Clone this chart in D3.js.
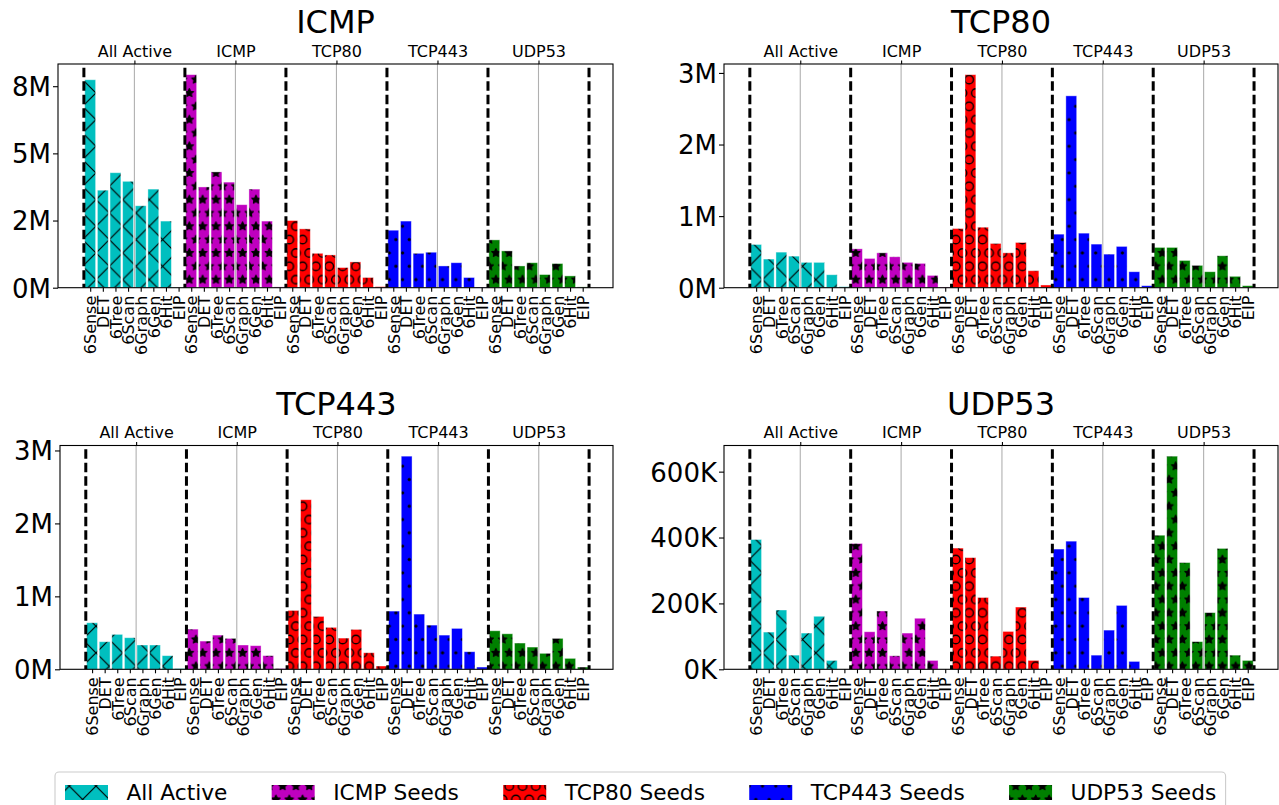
<!DOCTYPE html>
<html><head><meta charset="utf-8">
<script src="https://cdn.jsdelivr.net/npm/d3@7"></script>
<style>body{margin:0;background:#fff;} svg{display:block;font-family:"DejaVu Sans",sans-serif;}</style>
</head><body><svg id="c" width="1279" height="805"></svg>
<script>
// ---------------- data ----------------
const methods = ["6Sense","DET","6Tree","6Scan","6Graph","6Gen","6Hit","EIP"];
const seedGroups = ["All Active","ICMP","TCP80","TCP443","UDP53"];
const legendLabels = ["All Active","ICMP Seeds","TCP80 Seeds","TCP443 Seeds","UDP53 Seeds"];
const seedColors = ["#00bfbf","#bf00bf","#ff0000","#0000ff","#008000"];
const panelTitles = ["ICMP","TCP80","TCP443","UDP53"];

// values per seed group (rows) and method (columns)
const icmpValues = [
  [7.74e6,3.63e6,4.28e6,3.96e6,3.05e6,3.67e6,2.48e6,0.005e6],
  [7.93e6,3.75e6,4.31e6,3.93e6,3.09e6,3.67e6,2.48e6,0.03e6],
  [2.50e6,2.19e6,1.28e6,1.22e6,0.75e6,0.96e6,0.38e6,0.04e6],
  [2.14e6,2.48e6,1.28e6,1.32e6,0.81e6,0.93e6,0.38e6,0.02e6],
  [1.78e6,1.37e6,0.81e6,0.93e6,0.49e6,0.90e6,0.44e6,0.03e6]
];
const tcp80Values = [
  [0.604e6,0.400e6,0.497e6,0.441e6,0.354e6,0.354e6,0.181e6,0.014e6],
  [0.543e6,0.409e6,0.487e6,0.432e6,0.354e6,0.340e6,0.172e6,0.010e6],
  [0.827e6,2.976e6,0.845e6,0.618e6,0.487e6,0.632e6,0.237e6,0.038e6],
  [0.748e6,2.680e6,0.762e6,0.609e6,0.469e6,0.577e6,0.223e6,0.028e6],
  [0.563e6,0.563e6,0.381e6,0.312e6,0.223e6,0.446e6,0.159e6,0.028e6]
];
const tcp443Values = [
  [0.638e6,0.378e6,0.479e6,0.433e6,0.333e6,0.333e6,0.187e6,0.010e6],
  [0.551e6,0.387e6,0.469e6,0.424e6,0.333e6,0.324e6,0.187e6,0.010e6],
  [0.807e6,2.325e6,0.725e6,0.575e6,0.428e6,0.547e6,0.227e6,0.045e6],
  [0.798e6,2.922e6,0.757e6,0.606e6,0.469e6,0.561e6,0.241e6,0.031e6],
  [0.528e6,0.487e6,0.360e6,0.305e6,0.219e6,0.424e6,0.150e6,0.031e6]
];
const udp53Values = [
  [394e3,113e3,180e3,43e3,110e3,161e3,27e3,0],
  [382e3,114e3,177e3,41e3,110e3,155e3,27e3,0],
  [368e3,339e3,218e3,40e3,115e3,189e3,27e3,0],
  [365e3,389e3,218e3,43e3,119e3,194e3,24e3,0],
  [407e3,647e3,324e3,84e3,172e3,367e3,43e3,27e3]
];
const icmpTicks = [0,2.5e6,5e6,7.5e6];
const icmpTickLabels = ["0M","2M","5M","8M"];
const mTicks = [0,1e6,2e6,3e6];
const mTickLabels = ["0M","1M","2M","3M"];
const kTicks = [0,2e5,4e5,6e5];
const kTickLabels = ["0K","200K","400K","600K"];

// ---------------- layout ----------------
const W = 1279, H = 805;
const svg = d3.select("#c");
svg.append("rect").attr("width",W).attr("height",H).attr("fill","#fff");
const defs = svg.append("defs");

// hatch patterns (black hatch over coloured fill), one shared lattice
const S = 13.33;          // shape lattice spacing
const T = 2*S;            // tile size
const ox = 16, oy = 13;   // lattice origin
function starPath(cx, cy, R) {
  let d = "";
  for (let k = 0; k < 10; k++) {
    const a = -Math.PI/2 + k*Math.PI/5, r = k%2 ? R*0.5 : R;
    d += (k ? "L" : "M") + (cx + r*Math.cos(a)).toFixed(2) + "," + (cy + r*Math.sin(a)).toFixed(2);
  }
  return d + "Z";
}
const hatchKinds = ["x","*","o",".","*"];
const latticePts = [[0,0],[S,0],[T,0],[0,T],[S,T],[T,T],[S/2,S],[1.5*S,S]];
hatchKinds.forEach((kind, gi) => {
  const pat = defs.append("pattern").attr("id","hatch"+gi)
    .attr("patternUnits","userSpaceOnUse").attr("width",T).attr("height",T)
    .attr("x",ox).attr("y",oy);
  pat.append("rect").attr("width",T).attr("height",T).attr("fill",seedColors[gi]);
  if (kind === "x") {
    pat.append("path").attr("d",`M${-1},${-1}L${T+1},${T+1}M${T+1},${-1}L${-1},${T+1}`)
      .attr("stroke","#000").attr("stroke-width",1.2).attr("fill","none");
  } else {
    latticePts.forEach(([px,py]) => {
      if (kind === "*") pat.append("path").attr("d",starPath(px,py,S/3)).attr("fill","#000")
        .attr("stroke","#000").attr("stroke-width",1).attr("stroke-linejoin","round");
      else if (kind === "o") pat.append("circle").attr("cx",px).attr("cy",py).attr("r",0.32*S)
        .attr("fill","none").attr("stroke","#000").attr("stroke-width",1.4);
      else pat.append("circle").attr("cx",px).attr("cy",py).attr("r",0.1*S).attr("fill","#000")
        .attr("stroke","#000").attr("stroke-width",0.6);
    });
  }
});

const panels = [
  {title:panelTitles[0], values:icmpValues, ticks:icmpTicks, labels:icmpTickLabels, left:58, right:613, top:64, bottom:287.7, titleY:33},
  {title:panelTitles[1], values:tcp80Values, ticks:mTicks, labels:mTickLabels, left:724, right:1278, top:64, bottom:287.7, titleY:33},
  {title:panelTitles[2], values:tcp443Values, ticks:mTicks, labels:mTickLabels, left:60, right:613, top:445.5, bottom:669.3, titleY:415},
  {title:panelTitles[3], values:udp53Values, ticks:kTicks, labels:kTickLabels, left:724, right:1278, top:445.5, bottom:669.3, titleY:415}
];

const nM = methods.length;
const barW = 0.86;

panels.forEach(p => {
  const g = svg.append("g");
  const x = d3.scaleLinear().domain([-2.55, 41.4]).range([p.left, p.right]);
  const maxV = d3.max(p.values.flat());
  const y = d3.scaleLinear().domain([0, maxV*1.05]).range([p.bottom, p.top]);

  // grid lines of the top (group) axis
  const centers = seedGroups.map((s,i) => i*nM + (nM-1)/2);
  g.selectAll("line.grid").data(centers).join("line")
    .attr("x1",d=>x(d)).attr("x2",d=>x(d)).attr("y1",p.top).attr("y2",p.bottom)
    .attr("stroke","#b0b0b0").attr("stroke-width",1.1);

  // bars
  const flat = [];
  p.values.forEach((row,gi) => row.forEach((v,mi) => flat.push({gi, mi, v, i: gi*nM+mi})));
  g.selectAll("rect.bar").data(flat).join("rect")
    .attr("x",d=>x(d.i - barW/2)).attr("width",x(barW)-x(0))
    .attr("y",d=>y(d.v)).attr("height",d=>y(0)-y(d.v))
    .attr("fill",d=>`url(#hatch${d.gi})`)
    .attr("stroke","#fff").attr("stroke-opacity",0.5).attr("stroke-width",0.8);

  // dashed separators
  const seps = d3.range(seedGroups.length+1).map(k => k*nM - 0.5);
  g.selectAll("line.sep").data(seps).join("line")
    .attr("x1",d=>x(d)).attr("x2",d=>x(d)).attr("y1",p.top+3.7).attr("y2",p.bottom)
    .attr("stroke","#000").attr("stroke-width",3).attr("stroke-dasharray","9.5,4");

  // frame
  g.append("rect").attr("x",p.left).attr("y",p.top).attr("width",p.right-p.left).attr("height",p.bottom-p.top)
    .attr("fill","none").attr("stroke","#000").attr("stroke-width",1.1);

  // y axis
  const yAxis = d3.axisLeft(y).tickValues(p.ticks).tickFormat((d,i)=>p.labels[i]).tickSize(5).tickPadding(2);
  const ya = g.append("g").attr("transform",`translate(${p.left},0)`).call(yAxis);
  ya.select(".domain").remove();
  ya.selectAll("text").attr("font-size",26).attr("font-family","DejaVu Sans").attr("fill","#000").attr("dy","0.36em");
  ya.selectAll("line").attr("stroke","#000").attr("stroke-width",1.1);

  // bottom axis
  const ticksX = d3.range(seedGroups.length*nM);
  const xAxis = d3.axisBottom(x).tickValues(ticksX).tickFormat(i=>methods[i % nM]).tickSize(4).tickPadding(0);
  const xa = g.append("g").attr("transform",`translate(0,${p.bottom})`).call(xAxis);
  xa.select(".domain").remove();
  xa.selectAll("line").attr("stroke","#000").attr("stroke-width",1.1);
  xa.selectAll("text").attr("font-size",16).attr("font-family","DejaVu Sans").attr("fill","#000")
    .attr("text-anchor","end").attr("transform","rotate(-90)")
    .attr("x",-8).attr("y",0).attr("dy","0.36em");

  // top axis (groups)
  const xTop = d3.axisTop(x).tickValues(centers).tickFormat((d,i)=>seedGroups[i]).tickSize(3.5).tickPadding(4);
  const xt = g.append("g").attr("transform",`translate(0,${p.top})`).call(xTop);
  xt.select(".domain").remove();
  xt.selectAll("line").attr("stroke","#000").attr("stroke-width",1.1);
  xt.selectAll("text").attr("font-size",16).attr("font-family","DejaVu Sans").attr("fill","#000");

  // title
  g.append("text").attr("x",(p.left+p.right)/2).attr("y",p.titleY).attr("text-anchor","middle")
    .attr("font-size",32).attr("fill","#000").text(p.title);
});

// ---------------- legend ----------------
const lg = svg.append("g");
const lgFont = 21.7, handleLen = 43, handleH = 15, textPad = 18.5, colGap = 44.3;
lg.append("rect").attr("x",55).attr("y",772).attr("width",1170.6).attr("height",45).attr("rx",4)
  .attr("fill","#fff").attr("stroke","#cccccc").attr("stroke-width",1.1);
let lx = 65;
legendLabels.forEach((lab, i) => {
  lg.append("rect").attr("x",lx).attr("y",792.5-handleH/2).attr("width",handleLen).attr("height",handleH)
    .attr("fill",`url(#hatch${i})`);
  const t = lg.append("text").attr("x",lx+handleLen+textPad).attr("y",800.3).attr("font-size",lgFont).attr("fill","#000").text(lab);
  lx = lx + handleLen + textPad + t.node().getComputedTextLength() + colGap;
});
</script></body></html>
